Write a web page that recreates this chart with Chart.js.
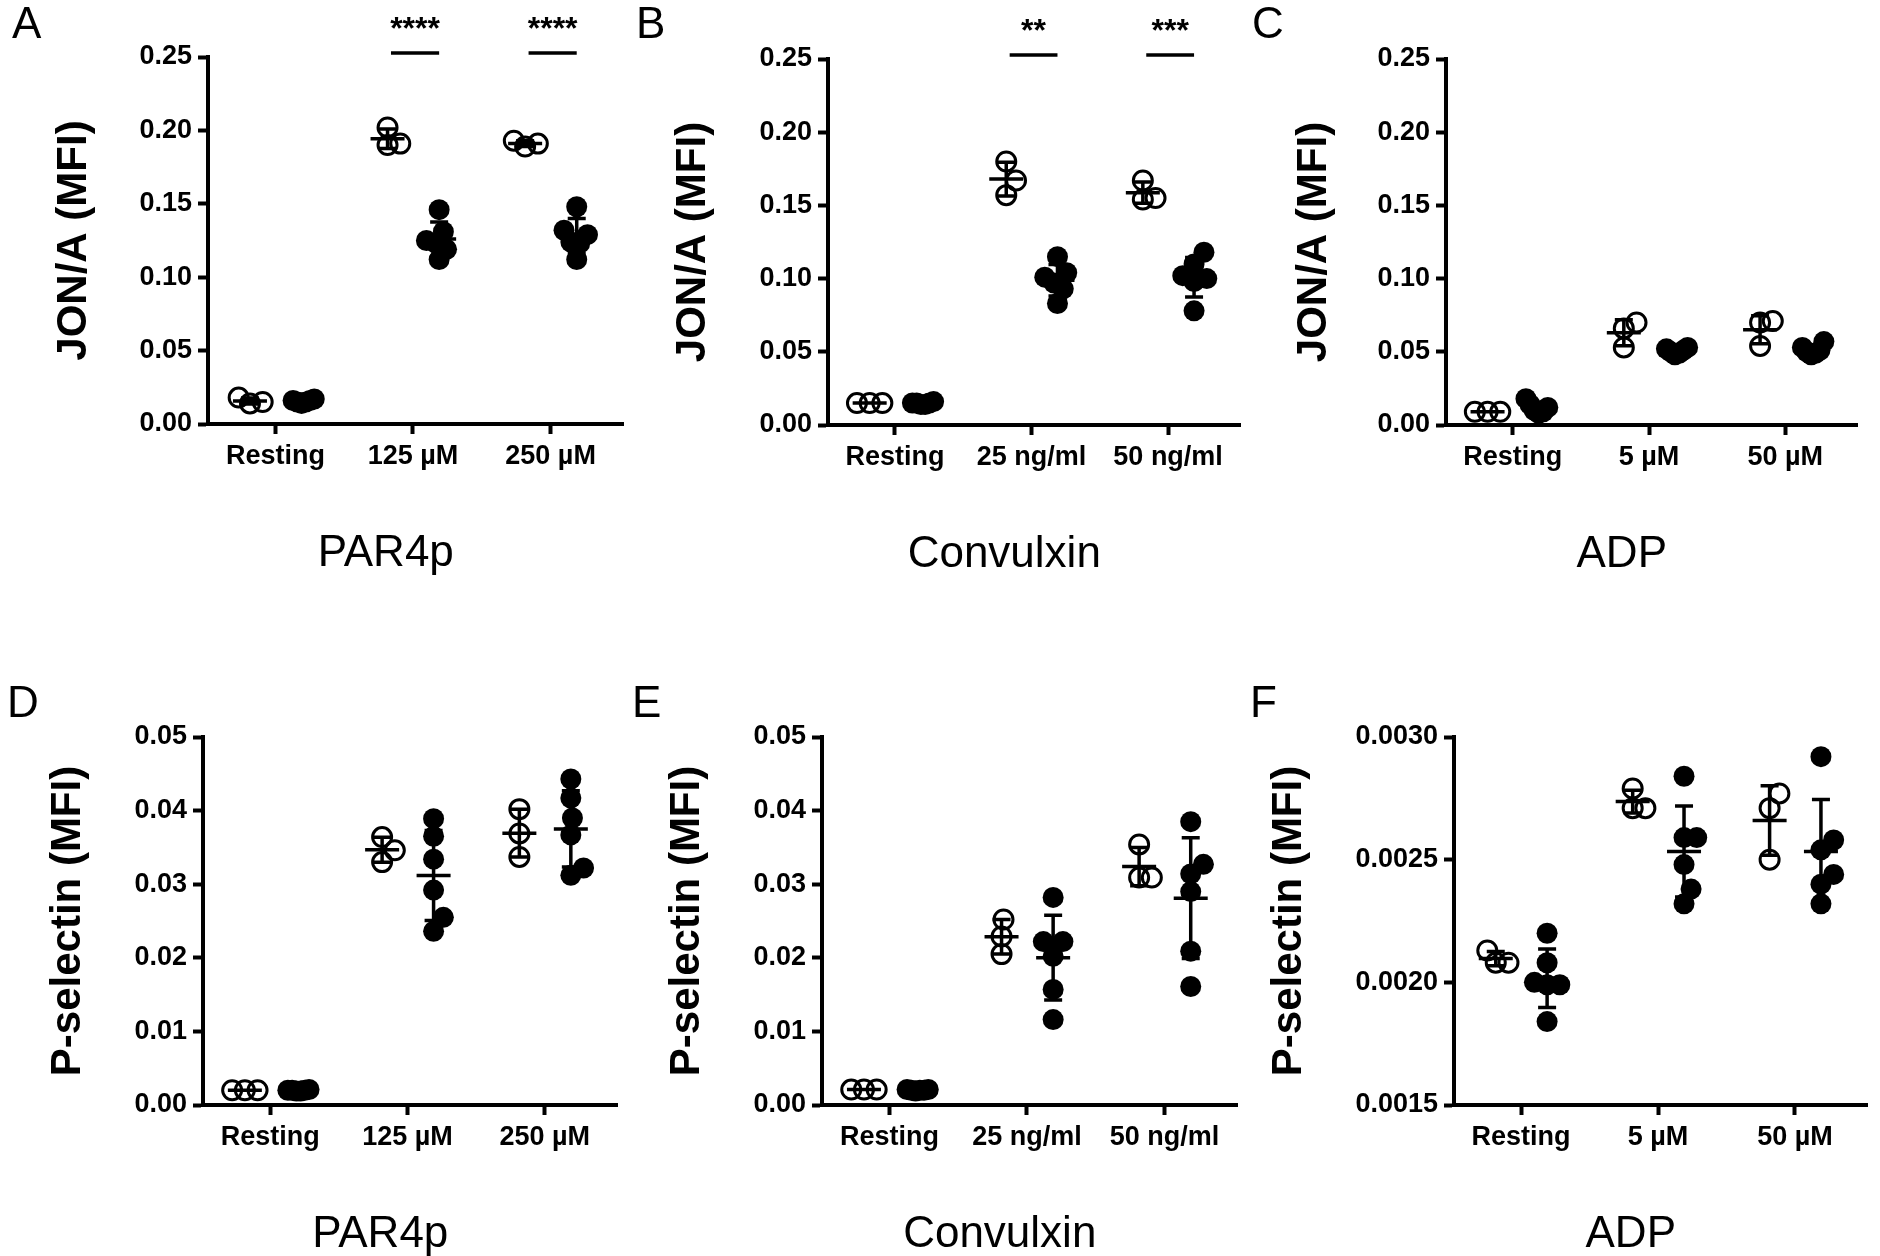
<!DOCTYPE html>
<html>
<head>
<meta charset="utf-8">
<script src="https://cdn.jsdelivr.net/npm/chart.js@4.4.1/dist/chart.umd.min.js"></script>
<style>
  body { margin: 0; background: #fff; width: 1880px; height: 1256px; position: relative; overflow: hidden; }
  canvas { position: absolute; }
</style>
</head>
<body>
<script>
// ---- categories ----
const catsPAR4p = ['Resting', '125 µM', '250 µM'];
const catsConvulxin = ['Resting', '25 ng/ml', '50 ng/ml'];
const catsADP = ['Resting', '5 µM', '50 µM'];

// ---- y tick values ----
const ticksJON = [0, 0.05, 0.10, 0.15, 0.20, 0.25];
const ticksPsel = [0, 0.01, 0.02, 0.03, 0.04, 0.05];
const ticksPselADP = [0.0015, 0.0020, 0.0025, 0.0030];

// ---- JON/A, values per category (open = first group, filled = second group) ----
const jonPar4Open = [[0.014, 0.018, 0.015], [0.202, 0.190, 0.191], [0.189, 0.193, 0.191]];
const jonPar4Filled = [[0.015, 0.016, 0.014, 0.017, 0.015, 0.016], [0.146, 0.131, 0.125, 0.123, 0.119, 0.112], [0.148, 0.132, 0.129, 0.124, 0.123, 0.112]];
const jonCvxOpen = [[0.015, 0.015, 0.015], [0.180, 0.167, 0.157], [0.167, 0.155, 0.154]];
const jonCvxFilled = [[0.014, 0.015, 0.016, 0.015, 0.014, 0.015], [0.115, 0.104, 0.101, 0.097, 0.093, 0.083], [0.118, 0.110, 0.102, 0.100, 0.098, 0.078]];
const jonAdpOpen = [[0.009, 0.009, 0.009], [0.070, 0.066, 0.053], [0.071, 0.070, 0.054]];
const jonAdpFilled = [[0.018, 0.014, 0.012, 0.010, 0.008, 0.009], [0.053, 0.052, 0.051, 0.050, 0.049, 0.048], [0.057, 0.053, 0.051, 0.050, 0.049, 0.048]];

// ---- P-selectin ----
const pselPar4Open = [[0.002, 0.002, 0.002], [0.0364, 0.0346, 0.0330], [0.0402, 0.0369, 0.0337]];
const pselPar4Filled = [[0.0019, 0.0020, 0.0021, 0.0020, 0.0019, 0.0020], [0.0389, 0.0365, 0.0334, 0.0292, 0.0255, 0.0236], [0.0443, 0.0417, 0.0390, 0.0367, 0.0322, 0.0312]];
const pselCvxOpen = [[0.0021, 0.0021, 0.0021], [0.0252, 0.0229, 0.0205], [0.0354, 0.0309, 0.0309]];
const pselCvxFilled = [[0.0020, 0.0021, 0.0020, 0.0019, 0.0020, 0.0021], [0.0282, 0.0222, 0.0222, 0.0202, 0.0157, 0.0116], [0.0385, 0.0327, 0.0314, 0.0290, 0.0209, 0.0161]];
const pselAdpOpen = [[0.00213, 0.00208, 0.00208], [0.00279, 0.00271, 0.00271], [0.00277, 0.00271, 0.00250]];
const pselAdpFilled = [[0.00220, 0.00208, 0.00200, 0.00199, 0.00199, 0.00184], [0.00284, 0.00259, 0.00259, 0.00248, 0.00238, 0.00232], [0.00292, 0.00258, 0.00254, 0.00244, 0.00240, 0.00232]];

// ---- significance marks ----
const starsPar4 = ['', '****', '****'];
const starsCvx = ['', '**', '***'];

Chart.defaults.font.family = '"Liberation Sans", Arial, sans-serif';
Chart.defaults.color = '#000';

const FONT = '"Liberation Sans", Arial, sans-serif';
const OPEN_OFF = -0.185, FILLED_OFF = 0.19;

const panels = [
  { letter: 'A', L: 208, R: 633, T: 57, B: 424, row: 0, cats: catsPAR4p, title: 'PAR4p', yTitle: 'JON/A (MFI)', ticks: ticksJON, dec: 2, open: jonPar4Open, filled: jonPar4Filled, stars: starsPar4, lx: 12, ly: 38, yw: 159 },
  { letter: 'B', L: 828, R: 1250, T: 59, B: 425, row: 0, cats: catsConvulxin, title: 'Convulxin', yTitle: 'JON/A (MFI)', ticks: ticksJON, dec: 2, open: jonCvxOpen, filled: jonCvxFilled, stars: starsCvx, lx: 636, ly: 38, yw: 160 },
  { letter: 'C', L: 1446, R: 1867, T: 59, B: 425, row: 0, cats: catsADP, title: 'ADP', yTitle: 'JON/A (MFI)', ticks: ticksJON, dec: 2, open: jonAdpOpen, filled: jonAdpFilled, stars: null, lx: 1252, ly: 38, yw: 157 },
  { letter: 'D', L: 203, R: 627, T: 737, B: 1105, row: 628, cats: catsPAR4p, title: 'PAR4p', yTitle: 'P-selectin (MFI)', ticks: ticksPsel, dec: 2, open: pselPar4Open, filled: pselPar4Filled, stars: null, lx: 7, ly: 717, yw: 160 },
  { letter: 'E', L: 822, R: 1247, T: 737, B: 1105, row: 628, cats: catsConvulxin, title: 'Convulxin', yTitle: 'P-selectin (MFI)', ticks: ticksPsel, dec: 2, open: pselCvxOpen, filled: pselCvxFilled, stars: null, lx: 632, ly: 717, yw: 160 },
  { letter: 'F', L: 1454, R: 1877, T: 737, B: 1105, row: 628, cats: catsADP, title: 'ADP', yTitle: 'P-selectin (MFI)', ticks: ticksPselADP, dec: 4, open: pselAdpOpen, filled: pselAdpFilled, stars: null, lx: 1250, ly: 717, yw: 190 }
];

function mean(a) { return a.reduce((s, v) => s + v, 0) / a.length; }
function sd(a) {
  const m = mean(a);
  return Math.sqrt(a.reduce((s, v) => s + (v - m) * (v - m), 0) / (a.length - 1));
}

// simple beeswarm: spread points sideways when they would overlap, in pixels
function swarm(vals, pxPerY, pxPerX) {
  const order = vals.map((v, i) => i).sort((a, b) => vals[a] - vals[b]);
  const placed = [];
  const off = vals.map(() => 0);
  order.forEach(i => {
    const py = vals[i] * pxPerY;
    for (let k = 0; k < 200; k++) {
      const c = k === 0 ? 0 : (k % 2 ? 1 : -1) * Math.ceil(k / 2) * 2;
      if (placed.every(p => Math.hypot(p.x - c, p.y - py) >= 17)) {
        off[i] = c;
        placed.push({ x: c, y: py });
        break;
      }
    }
  });
  const maxOff = Math.max(...off.map(Math.abs));
  const k = maxOff > 13 ? 13 / maxOff : 1;
  return off.map(o => o * k / pxPerX);
}

function makePoints(groups, offset, pxPerY, pxPerX) {
  const pts = [];
  groups.forEach((vals, i) => {
    const jit = swarm(vals, pxPerY, pxPerX);
    vals.forEach((v, j) => pts.push({ x: i + offset + jit[j], y: v }));
  });
  return pts;
}

function decorPlugin(p, cx, cy) {
  return {
    id: 'decor' + p.letter,
    afterDatasetsDraw(chart) {
      const { ctx, scales: { x, y } } = chart;
      ctx.save();
      ctx.strokeStyle = '#000';
      ctx.lineWidth = 3.5;
      [[p.open, OPEN_OFF], [p.filled, FILLED_OFF]].forEach(([groups, off]) => {
        groups.forEach((vals, i) => {
          const m = mean(vals), s = sd(vals);
          const xc = x.getPixelForValue(i + off);
          const ym = y.getPixelForValue(m), yt = y.getPixelForValue(m + s), yb = y.getPixelForValue(m - s);
          ctx.beginPath();
          ctx.moveTo(xc - 17, ym); ctx.lineTo(xc + 17, ym);
          ctx.moveTo(xc, yt); ctx.lineTo(xc, yb);
          ctx.moveTo(xc - 9, yt); ctx.lineTo(xc + 9, yt);
          ctx.moveTo(xc - 9, yb); ctx.lineTo(xc + 9, yb);
          ctx.stroke();
        });
      });
      ctx.restore();
    },
    afterDraw(chart) {
      const { ctx, scales: { x, y }, chartArea } = chart;
      ctx.save();
      ctx.fillStyle = '#000';
      // panel letter
      ctx.font = '44px ' + FONT;
      ctx.textAlign = 'left';
      ctx.textBaseline = 'alphabetic';
      ctx.fillText(p.letter, p.lx - cx, p.ly - cy);
      // agonist title
      ctx.textAlign = 'center';
      ctx.fillText(p.title, (chartArea.left + chartArea.right) / 2 - 30, chartArea.bottom + 142);
      // significance
      if (p.stars) {
        p.stars.forEach((st, i) => {
          if (!st) return;
          const x1 = x.getPixelForValue(i - 0.16), x2 = x.getPixelForValue(i + 0.19);
          const ly = chartArea.top - 4;
          ctx.lineWidth = 3.5;
          ctx.beginPath();
          ctx.moveTo(x1, ly); ctx.lineTo(x2, ly);
          ctx.stroke();
          ctx.font = 'bold 32px ' + FONT;
          ctx.fillText(st, (x1 + x2) / 2, chartArea.top - 18);
        });
      }
      ctx.restore();
    }
  };
}

panels.forEach(p => {
  const cx = p.L - 205, cy = p.row;
  const W = p.R + 3 - cx, H = 628;
  const xMin = -0.49, xMax = 2.53;
  const pxPerX = (p.R - p.L) / (xMax - xMin);
  const yMin = p.ticks[0], yMax = p.ticks[p.ticks.length - 1];
  const pxPerY = (p.B - p.T) / (yMax - yMin);
  const HX = 80;

  const canvas = document.createElement('canvas');
  canvas.width = W; canvas.height = H;
  canvas.style.left = cx + 'px';
  canvas.style.top = cy + 'px';
  canvas.style.width = W + 'px';
  canvas.style.height = H + 'px';
  document.body.appendChild(canvas);

  new Chart(canvas, {
    type: 'scatter',
    data: {
      datasets: [
        {
          data: makePoints(p.open, OPEN_OFF, pxPerY, pxPerX),
          pointRadius: 9.5,
          pointBorderWidth: 3,
          pointBorderColor: '#000',
          pointBackgroundColor: 'rgba(0,0,0,0)',
          clip: false
        },
        {
          data: makePoints(p.filled, FILLED_OFF, pxPerY, pxPerX),
          pointRadius: 10.5,
          pointBorderWidth: 0,
          pointBorderColor: '#000',
          pointBackgroundColor: '#000',
          clip: false
        }
      ]
    },
    options: {
      responsive: false,
      animation: false,
      events: [],
      layout: { padding: { left: 205 - p.yw, top: p.T - cy, right: 3, bottom: H - (p.B - cy) - HX } },
      plugins: { legend: { display: false }, tooltip: { enabled: false } },
      scales: {
        x: {
          type: 'linear',
          min: xMin,
          max: xMax,
          afterBuildTicks: s => { s.ticks = p.cats.map((c, i) => ({ value: i })); },
          afterFit: s => { s.height = HX; },
          ticks: {
            callback: v => p.cats[v],
            font: { size: 27, weight: 'bold' },
            color: '#000',
            padding: 6,
            maxRotation: 0,
            autoSkip: false
          },
          grid: { drawOnChartArea: false, tickLength: 10, tickWidth: 4, tickColor: '#000' },
          border: { display: true, width: 4, color: '#000' }
        },
        y: {
          min: yMin,
          max: yMax,
          afterBuildTicks: s => { s.ticks = p.ticks.map(v => ({ value: v })); },
          afterFit: s => { s.width = p.yw; },
          ticks: {
            callback: v => v.toFixed(p.dec),
            font: { size: 27, weight: 'bold' },
            color: '#000',
            padding: 6
          },
          grid: { drawOnChartArea: false, tickLength: 10, tickWidth: 4, tickColor: '#000' },
          border: { display: true, width: 4, color: '#000' },
          title: { display: true, text: p.yTitle, font: { size: 42, weight: 'bold' }, color: '#000', padding: 0 }
        }
      }
    },
    plugins: [decorPlugin(p, cx, cy)]
  });
});
</script>
</body>
</html>
